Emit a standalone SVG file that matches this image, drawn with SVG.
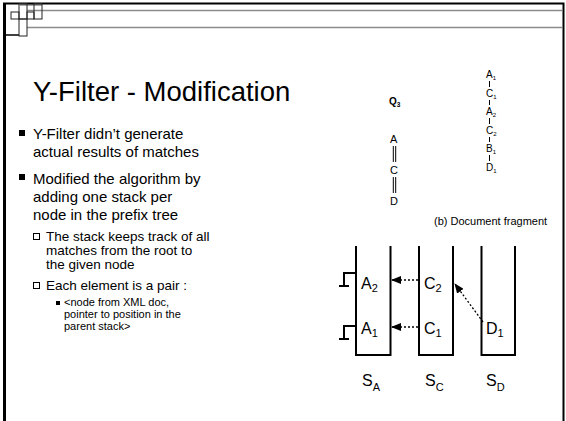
<svg xmlns="http://www.w3.org/2000/svg" width="566" height="421" viewBox="0 0 566 421">
<style>
.t{font-family:"Liberation Sans",Arial,sans-serif;fill:#000}
.frame{stroke:#000;fill:none}
.gray{stroke:#8c8c8c;stroke-width:1.5;fill:none}
.sq{stroke:#222;stroke-width:1;fill:none}
.wall{stroke:#000;stroke-width:2;fill:none}
.dot{stroke:#000;stroke-width:1.3;stroke-dasharray:2 2;fill:none}
</style>
<defs>
<marker id="ah" markerWidth="10" markerHeight="8" refX="9" refY="4" orient="auto" markerUnits="userSpaceOnUse">
<path d="M0,0 L10,4 L0,8 Z" fill="#000"/>
</marker>
</defs>
<rect width="566" height="421" fill="#fff"/>
<g id="frame">
<line class="gray" x1="20" y1="5" x2="42" y2="5"/>
<line class="gray" x1="27" y1="10.5" x2="562" y2="10.5"/>
<line class="gray" x1="27" y1="27.5" x2="562" y2="27.5"/>
<path class="frame" stroke-width="2" d="M3,3.5 H563.5 V421"/>
<line class="frame" stroke-width="3" x1="4.5" y1="3" x2="4.5" y2="421"/>
<line class="frame" stroke-width="1.5" x1="4" y1="35" x2="19" y2="35"/>
<rect class="sq" x="11" y="12" width="8" height="7"/>
<rect class="sq" x="19" y="3.5" width="8" height="15.5" stroke="#777"/>
<rect class="sq" x="19" y="19" width="8" height="17"/>
<rect class="sq" x="27" y="12" width="7" height="7"/>
<rect class="sq" x="34" y="3.5" width="8" height="15.5"/>
</g>
<g id="title"><text class="t" x="33" y="101" font-size="27.5">Y-Filter - Modification</text></g>
<g id="bullets" class="t">
<rect x="19" y="130" width="6" height="6" fill="#000"/>
<text class="t" x="33" y="139" font-size="15">Y-Filter didn’t generate</text>
<text class="t" x="33" y="157" font-size="15">actual results of matches</text>
<rect x="19" y="174" width="6" height="6" fill="#000"/>
<text class="t" x="33" y="184" font-size="15">Modified the algorithm by</text>
<text class="t" x="33" y="202" font-size="15">adding one stack per</text>
<text class="t" x="33" y="220" font-size="15">node in the prefix tree</text>
<rect x="33.5" y="233.5" width="6" height="6" fill="none" stroke="#000" stroke-width="1"/>
<text class="t" x="46" y="241" font-size="13.5">The stack keeps track of all</text>
<text class="t" x="46" y="255" font-size="13.5">matches from the root to</text>
<text class="t" x="46" y="269" font-size="13.5">the given node</text>
<rect x="33.5" y="282.5" width="6" height="6" fill="none" stroke="#000" stroke-width="1"/>
<text class="t" x="46" y="290" font-size="13.5">Each element is a pair :</text>
<rect x="56" y="301" width="4" height="4" fill="#000"/>
<text class="t" x="64" y="306" font-size="11">&lt;node from XML doc,</text>
<text class="t" x="64" y="318" font-size="11">pointer to position in the</text>
<text class="t" x="64" y="330" font-size="11">parent stack&gt;</text>
</g>
<g id="query" class="t">
<text class="t" x="389" y="105" font-size="10" font-weight="bold">Q<tspan font-size="6.5" dy="2">3</tspan></text>
<text class="t" x="390" y="143" font-size="11">A</text>
<text class="t" x="390" y="174" font-size="11">C</text>
<text class="t" x="390" y="205" font-size="11">D</text>
<path d="M393.3,146 V162 M395.7,146 V162 M393.3,177 V193 M395.7,177 V193" stroke="#000" stroke-width="1"/>
</g>
<g id="document" class="t">
<text class="t" x="486" y="78" font-size="10">A<tspan font-size="6" dy="2">1</tspan></text>
<text class="t" x="486" y="97" font-size="10">C<tspan font-size="6" dy="2">1</tspan></text>
<text class="t" x="486" y="115" font-size="10">A<tspan font-size="6" dy="2">2</tspan></text>
<text class="t" x="486" y="134" font-size="10">C<tspan font-size="6" dy="2">2</tspan></text>
<text class="t" x="486" y="152" font-size="10">B<tspan font-size="6" dy="2">1</tspan></text>
<text class="t" x="486" y="171" font-size="10">D<tspan font-size="6" dy="2">1</tspan></text>
<path d="M489.5,81 V87 M489.5,100 V105 M489.5,118 V124 M489.5,137 V142 M489.5,155 V161" stroke="#000" stroke-width="1"/>
<text class="t" x="434" y="225" font-size="11">(b) Document fragment</text>
</g>
<g id="SA">
<path class="wall" d="M356,246 V355 H390.5 V246"/>
<path d="M356,273 H344 V286 M339,286 H349 M356,326 H344 V339 M339,339 H349" stroke="#000" stroke-width="2" fill="none"/>
<text class="t" x="361" y="289" font-size="16">A<tspan font-size="11" dy="3">2</tspan></text>
<text class="t" x="361" y="334" font-size="16">A<tspan font-size="11" dy="3">1</tspan></text>
<text class="t" x="362" y="386" font-size="16">S<tspan font-size="11" dy="5">A</tspan></text>
</g>
<g id="SC">
<path class="wall" d="M419,246 V355 H453 V246"/>
<text class="t" x="424" y="289" font-size="16">C<tspan font-size="11" dy="3">2</tspan></text>
<text class="t" x="424" y="334" font-size="16">C<tspan font-size="11" dy="3">1</tspan></text>
<text class="t" x="425" y="386" font-size="16">S<tspan font-size="11" dy="5">C</tspan></text>
</g>
<g id="SD">
<path class="wall" d="M481.5,246 V355 H515 V246"/>
<text class="t" x="486" y="334" font-size="16">D<tspan font-size="11" dy="3">1</tspan></text>
<text class="t" x="486" y="386" font-size="16">S<tspan font-size="11" dy="5">D</tspan></text>
</g>
<g id="connectors">
<line class="dot" x1="418" y1="280" x2="392" y2="280" marker-end="url(#ah)"/>
<line class="dot" x1="418" y1="327" x2="392" y2="327" marker-end="url(#ah)"/>
<line class="dot" x1="483" y1="322" x2="455" y2="284" marker-end="url(#ah)"/>
</g>
</svg>
